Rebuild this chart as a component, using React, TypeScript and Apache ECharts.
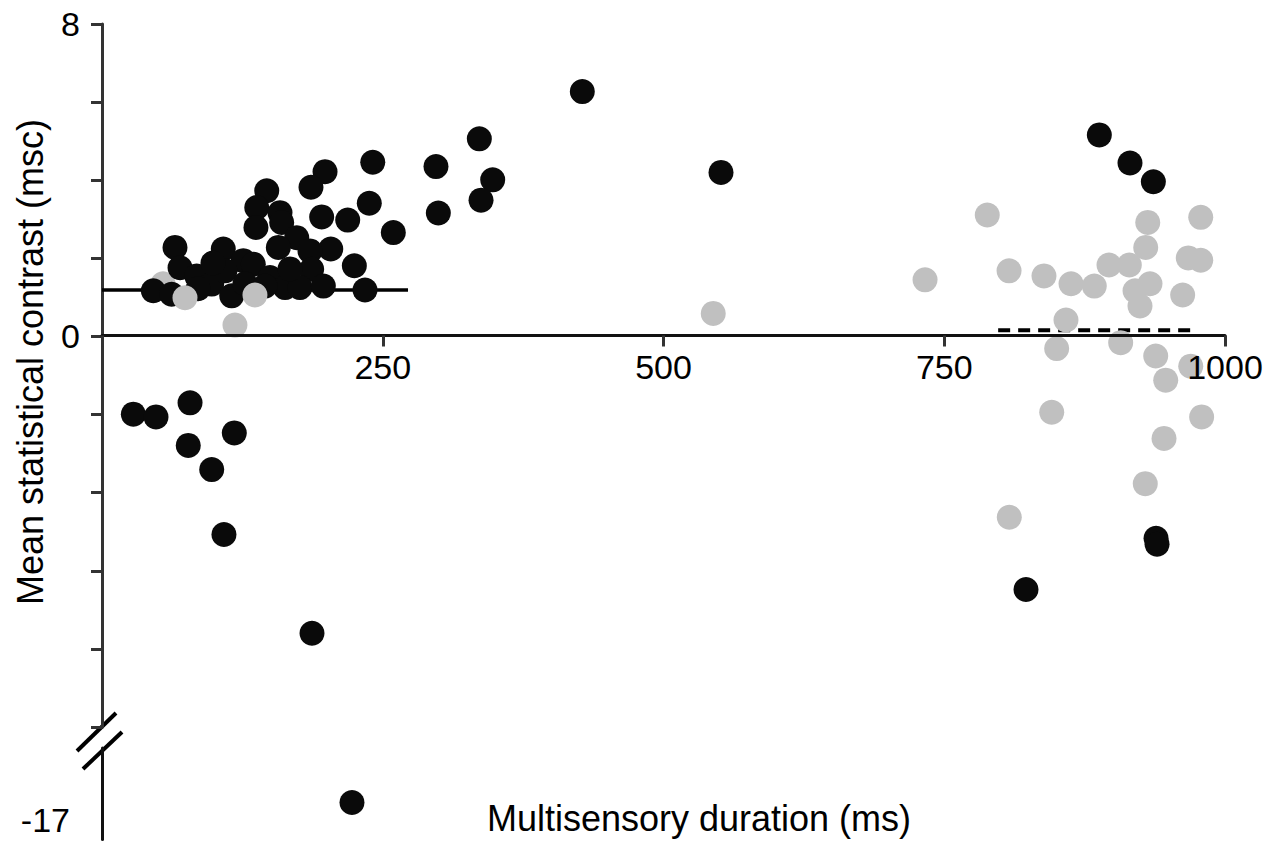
import React, { useEffect, useRef } from "react";
import * as echarts from "echarts";

// ---- data (ms, msc) ----
const blackPoints: [number, number][] = [
  [241.1, 4.46], [198.6, 4.22], [186.1, 3.82], [146.7, 3.73], [238.0, 3.41],
  [137.8, 3.3], [158.5, 3.17], [195.6, 3.06], [218.8, 2.98], [160.0, 2.92],
  [137.1, 2.79], [259.4, 2.66], [173.4, 2.53], [65.0, 2.28], [108.0, 2.24],
  [157.0, 2.28], [203.7, 2.24], [185.2, 2.19], [224.7, 1.81], [69.5, 1.76],
  [125.8, 1.94], [134.7, 1.85], [84.3, 1.55], [97.7, 1.34], [109.5, 1.68],
  [149.6, 1.51], [186.7, 1.72], [45.7, 1.17], [62.0, 1.08], [115.5, 1.04],
  [163.0, 1.25], [176.3, 1.25], [197.1, 1.29], [234.2, 1.19], [85.5, 1.22],
  [127.3, 1.35], [145.1, 1.29], [98.8, 1.88], [167.4, 1.73],
  [427.7, 6.27], [336.0, 5.06], [297.4, 4.35], [347.9, 4.01], [551.2, 4.2],
  [337.5, 3.49], [299.5, 3.16],
  [888.1, 5.16], [915.4, 4.44], [936.2, 3.96],
  [27.9, -1.99], [48.1, -2.06], [78.4, -1.7], [76.8, -2.79], [117.8, -2.47],
  [97.7, -3.41], [108.6, -5.07], [187.0, -7.6],
  [938.6, -5.17], [939.5, -5.32], [822.8, -6.48],
];

const grayBehindPoints: [number, number][] = [[54.3, 1.35]];

const grayPoints: [number, number][] = [
  [73.9, 0.99], [136.2, 1.06], [118.4, 0.29], [544.3, 0.59],
  [788.3, 3.11], [978.4, 3.05], [931.2, 2.92], [929.4, 2.28], [732.9, 1.45],
  [807.7, 1.68], [838.8, 1.55], [862.9, 1.35], [883.6, 1.29], [896.7, 1.83],
  [914.8, 1.83], [967.3, 2.01], [978.4, 1.95], [933.2, 1.35], [919.9, 1.17],
  [924.3, 0.78], [962.3, 1.06], [858.4, 0.42], [850.1, -0.31], [907.1, -0.16],
  [938.3, -0.5], [947.2, -1.12], [969.5, -0.76], [845.7, -1.94], [979.2, -2.06],
  [945.7, -2.61], [929.0, -3.77], [807.9, -4.63],
];

const lowerBlackPoints: [number, number][] = [[222.6, -16.55]];

const meanLineSolid: [number, number][] = [[0, 1.19], [272.5, 1.19]];
const meanLineDashed: [number, number][] = [[798, 0.16], [970, 0.16]];

const yLabelsShown = [8, 0];
const yLowerLabel = -17;

const xTitle = "Multisensory duration (ms)";
const yTitle = "Mean statistical contrast (msc)";

const FONT = "'Liberation Sans', Arial, Helvetica, sans-serif";

export default function App() {
  const ref = useRef<HTMLDivElement>(null);

  useEffect(() => {
    if (!ref.current) return;
    const chart = echarts.init(ref.current, null, { renderer: "svg" });
    const option: any = {
      animation: false,
      backgroundColor: "#ffffff",
      grid: [
        { left: 102, top: 24, width: 1123, height: 703 },
        { left: 102, top: 748, width: 1123, height: 91.5 },
      ],
      xAxis: [
        {
          gridIndex: 0,
          type: "value",
          position: "bottom",
          offset: -391.5,
          z: 5,
          min: 0,
          max: 1000,
          interval: 250,
          axisLine: { show: true, onZero: false, lineStyle: { color: "#111", width: 3 } },
          axisTick: { show: true, length: 11, lineStyle: { color: "#333", width: 3 } },
          axisLabel: {
            formatter: (v: number) => (v === 0 ? "" : String(v)),
            fontSize: 34,
            fontFamily: FONT,
            color: "#000",
            margin: 14,
          },
          splitLine: { show: false },
        },
        { gridIndex: 1, type: "value", min: 0, max: 1000, show: false },
      ],
      yAxis: [
        {
          gridIndex: 0,
          type: "value",
          min: -10,
          max: 8,
          interval: 2,
          axisLine: { show: true, onZero: false, lineStyle: { color: "#333", width: 3 } },
          axisTick: { show: true, length: 11, lineStyle: { color: "#333", width: 3 } },
          axisLabel: {
            formatter: (v: number) => (yLabelsShown.includes(v) ? String(v) : ""),
            fontSize: 34,
            fontFamily: FONT,
            color: "#000",
            margin: 22,
          },
          splitLine: { show: false },
        },
        {
          gridIndex: 1,
          type: "value",
          min: -17.5,
          max: -15.15,
          interval: 0.5,
          axisLine: { show: true, onZero: false, lineStyle: { color: "#111", width: 3 } },
          axisTick: { show: false },
          axisLabel: {
            formatter: (v: number) => (Math.abs(v - yLowerLabel) < 1e-6 ? String(yLowerLabel) : ""),
            fontSize: 34,
            fontFamily: FONT,
            color: "#000",
            margin: 32,
          },
          splitLine: { show: false },
        },
      ],
      graphic: [
        { type: "line", shape: { x1: 77, y1: 751, x2: 116, y2: 713 }, style: { stroke: "#000", lineWidth: 4 } },
        { type: "line", shape: { x1: 83, y1: 769, x2: 122, y2: 732 }, style: { stroke: "#000", lineWidth: 4 } },
        {
          type: "text",
          x: 30,
          y: 362,
          rotation: Math.PI / 2,
          style: { text: yTitle, fontSize: 36, fontFamily: FONT, fill: "#000", align: "center", verticalAlign: "middle" },
        },
        {
          type: "text",
          x: 699,
          y: 818,
          style: { text: xTitle, fontSize: 36, fontFamily: FONT, fill: "#000", align: "center", verticalAlign: "middle" },
        },
      ],
      series: [
        {
          type: "line",
          xAxisIndex: 0,
          yAxisIndex: 0,
          data: meanLineSolid,
          symbol: "none",
          silent: true,
          z: 1,
          lineStyle: { color: "#000", width: 3.5 },
        },
        {
          type: "line",
          xAxisIndex: 0,
          yAxisIndex: 0,
          data: meanLineDashed,
          symbol: "none",
          silent: true,
          z: 1,
          lineStyle: { color: "#000", width: 4, type: [12, 8] },
        },
        {
          type: "scatter",
          xAxisIndex: 0,
          yAxisIndex: 0,
          data: grayBehindPoints,
          symbolSize: 25,
          z: 2,
          itemStyle: { color: "#c0c0c0", opacity: 1 },
        },
        {
          type: "scatter",
          xAxisIndex: 0,
          yAxisIndex: 0,
          data: blackPoints,
          symbolSize: 25,
          z: 3,
          itemStyle: { color: "#0a0a0a", opacity: 1 },
        },
        {
          type: "scatter",
          xAxisIndex: 0,
          yAxisIndex: 0,
          data: grayPoints,
          symbolSize: 25,
          z: 4,
          itemStyle: { color: "#c0c0c0", opacity: 1 },
        },
        {
          type: "scatter",
          xAxisIndex: 1,
          yAxisIndex: 1,
          data: lowerBlackPoints,
          symbolSize: 25,
          z: 3,
          itemStyle: { color: "#0a0a0a", opacity: 1 },
        },
      ],
    };
    chart.setOption(option);
    return () => chart.dispose();
  }, []);

  return (
    <div
      ref={ref}
      style={{ position: "fixed", left: 0, top: 0, width: 1277, height: 841, background: "#fff" }}
    />
  );
}
